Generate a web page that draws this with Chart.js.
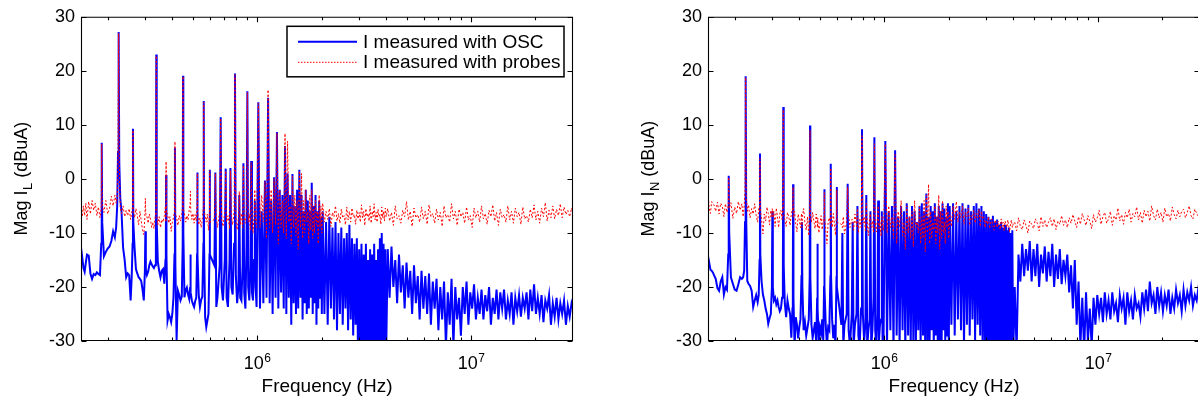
<!DOCTYPE html>
<html><head><meta charset="utf-8">
<script src="https://cdn.jsdelivr.net/npm/chart.js@4.4.0/dist/chart.umd.min.js"></script>
<style>
html,body{margin:0;padding:0;background:#fff;overflow:hidden;width:1198px;height:403px;}
canvas{position:absolute;top:0;}
#cL{left:0;}
#cN{left:627px;}
</style></head><body>
<canvas id="cL" width="600" height="403"></canvas>
<canvas id="cN" width="600" height="403"></canvas>
<script>
// ---------- data (frequency in kHz, magnitude in dBuA) ----------
const freqKHz = [
 150,152,154,156,158,160,163,166,169,172,
 175,178,181,184,186.5,187.5,188.5,192,196,200,
 204,208,212,216,219,221.5,223.5,225,226.5,229,
 232,236,240,244,248,252,256,259,261.5,262.5,
 263.5,267,271,275,279,283,287,291,295,298.5,
 300,301.5,305,309,313,317,321,325,329,333,
 336,337.5,339,343,348,353,358,363,368,372.5,
 374,375,376.5,381,386,391,396,401,406,410.5,
 412.5,414.5,420,426,432,438,444,448.5,450,451.5,
 457,463,469,475,481,486,487.5,489,495,501,
 507,513,519,523.5,525,526.5,533,540,547,554,
 560.5,562.5,564.5,571,578,585,592,598.5,600,601.5,
 631,637.5,644,652,668,675,682,692,705.5,712.5,
 719.5,730,742.5,750,757.5,768,780,787.5,795,806,
 817,825,833,844,855,862.5,870,881,892,900,
 908,919,929.5,937.5,945.5,956,967,975,983,994,
 1012.5,1031,1050,1069,1087.5,1106,1125,1144,1162.5,1181,
 1200,1219,1237.5,1256,1275,1294,1312.5,1331,1350,1369,
 1387.5,1406,1425,1444,1462.5,1481,1500,1519,1537.5,1556,
 1575,1594,1612.5,1631,1650,1669,1687.5,1706,1725,1744,
 1762.5,1781,1800,1819,1837.5,1856,1875,1894,1912.5,1931,
 1950,1969,1987.5,2006,
 2025,2062.5,2100,2137.5,2175,2212.5,2250,2287.5,2325,2362.5,
 2400,2437.5,2475,2512.5,2550,2587.5,2625,2662.5,2700,2737.5,
 2775,2812.5,2850,2887.5,2925,2962.5,3000,3037.5,3075,3112.5,
 3150,3187.5,3225,3262.5,3300,3337.5,3375,3412.5,3450,3487.5,
 3525,3562.5,3600,3637.5,3675,3712.5,3750,3787.5,3825,3862.5,
 3900,3937.5,3975,4012.5,
 4080,4163,4248,4335,4424,4514,4606,4700,4796,4894,
 4994,5096,5200,5306,5414,5525,5638,5753,5870,5990,
 6112,6237,6364,6494,6627,6762,6900,7041,7185,7332,
 7481,7634,7790,7949,8111,8276,8445,8617,8793,8972,
 9155,9342,9533,9727,9925,10128,10334,10545,10760,10979,
 11203,11432,11665,11903,12146,12394,12647,12905,13168,13437,
 13711,13991,14276,14568,14865,15168,15477,15793,16115,16444,
 16780,17122,17471,17828,18192,18563,18942,19328,19722,20125,
 20535,20954,21382,21818,22263,22717,23181,23654,24136,24628,
 25131,25644,26167,26701,27245,27801,28368,28947,29538,30000
];

// left plot: current I_L measured with oscilloscope
const oscL = [
 -12.7,-14.5,-16.5,-17.2,-15.5,-14.0,-14.2,-17.5,-18.5,-17.6,
 -17.8,-17.3,-17.6,-17.8,-12,6.7,-8,-14.3,-13.5,-12.9,
 -12.5,-11.5,-9.7,-10.8,-9.0,-5.0,5,27.2,3,-3.6,
 -6,-12.7,-15,-18.2,-17.5,-17.8,-22.5,-18,-12,9.3,
 -8,-12.7,-16.7,-17.5,-18.2,-18.5,-18.9,-20.5,-22.5,-17,
 -9.7,-16.7,-17.8,-17.2,-16.0,-15.3,-15.8,-16.2,-16.5,-16.0,
 -12,23.0,-8,-15.3,-17.0,-18.2,-17.0,-16.7,-19.4,-15,
 -12,0.7,-14,-26.2,-25,-25.6,-26.5,-25,-22,-14,
 5.8,-16,-29.8,-20.7,-21.5,-22.5,-21.8,-12,19.1,-10,
 -21.9,-20.6,-20.1,-21.4,-22.2,-20,-14,-21,-22.5,-23.2,
 -23.7,-22.6,-22,-14,1.2,-14,-21.4,-23.7,-22.4,-21.8,
 -12,14.4,-12,-25.6,-27.4,-26.2,-25,-14,1.7,-14,
 -16,1.2,-23.7,-22,-16,11.4,-20,-22.5,-15,1.9,
 -22,-23.7,-15,2.0,-20,-21.4,-12,19.5,-18,-23,
 -20,-3,-22,-22.5,-16,2.9,-21,-24,-12,16.2,
 -20,-22.5,-16,3.3,-21,-22.5,-15,-4,-20,-23.7,
 14.2,-24,-6,-23,-0.3,-22,15.0,-23,-4,-25,
 0.3,-22,8.7,-24,-2,-21,-3,-24,6.1,-25,
 1,-22,-3,-27,0.9,-23,-5,-25,-2,-24,
 1.7,-22,-3,-26,-6,-23,-2,-25,-4,-24,
 -6,-22,-0.7,-25,-5,-23,-3,-27,-6,-24,
 -4,-22,-7,-25,
 -6,-25,-8,-27,-7,-24,-9,-26,-8,-28,
 -10,-25,-9,-27,-11,-24,-10,-28,-8.5,-26,
 -11,-29,-12,-27,-11,-33,-13,-33,-12,-33,
 -14,-33,-12,-33,-15,-33,-13,-33,-14,-33,
 -12,-33,-15,-33,-13,-33,-11,-33,-10,-33,
 -12,-33,-13,-32,
 -13,-22,-12.5,-20,-15,-23,-14,-21,-16,-24,
 -15.5,-22,-17,-25,-16,-23,-18,-26,-17,-24,
 -18,-25,-17.5,-27,-19,-24,-18.5,-28,-20,-26,
 -19,-31,-21,-27,-18.5,-31,-20,-26,-22,-29,
 -20,-25,-19,-27,-21,-24,-19.5,-26,-22,-25,
 -20.5,-26,-21.5,-24.5,-20,-27,-22,-25,-20.5,-26,
 -21,-24,-20.5,-26,-22.5,-25,-21,-27,-22,-24.5,
 -21.5,-25.5,-22,-24,-21,-26,-20.5,-24.5,-19.5,-25,
 -22,-25,-21.5,-26.5,-22.5,-24,-21.5,-27,-23,-25.5,
 -22,-26,-23,-25,-22.5,-27,-23.5,-25.5,-23,-24
];

// left plot: current I_L measured with probes
const probeL = [
 -3.5,-7.0,-5.0,-6.8,-4.5,-7.5,-4.2,-6.5,-4.0,-5.8,
 -4.5,-6.8,-5.2,-7.2,-5.5,6.5,-5.0,-6.2,-4.0,-6.5,
 -5.5,-3.2,-5.0,-3.0,-4.5,-3.5,5,27.0,3,-5.5,
 -6.4,-5.0,-7.0,-5.8,-6.8,-5.5,-7.5,-6.2,-5.0,9.0,
 -6.0,-7.2,-5.5,-6.8,-8.5,-6.0,-7.8,-9.5,-10.3,-7.0,
 -3.6,-6.5,-6.9,-8.2,-6.5,-7.5,-9.0,-8.0,-9.2,-7.2,
 -6.0,22.8,-6.5,-8.5,-7.0,-9.0,-7.5,-8.0,-6.8,-5.0,
 -8,3.2,-6.5,-6.4,-8.2,-7.0,-9.7,-8.0,-7.2,-6.0,
 6.9,-6.5,-7.2,-8.6,-6.8,-7.8,-6.4,-5.0,19.0,-5.5,
 -6.4,-8.0,-6.8,-7.6,-5.8,-4.5,-2.3,-6.0,-7.5,-6.4,
 -8.2,-6.6,-7.8,-4.5,1.0,-6.0,-8.5,-7.2,-9.0,-7.4,
 -5.0,14.2,-5.5,-7.0,-8.0,-6.5,-9.5,-6.0,1.5,-8.0,
 -7.5,1.0,-7.0,-9.0,-6.0,11.2,-7.5,-8.8,-6.2,1.5,
 -8.0,-6.8,-9.2,1.5,-7.0,-8.5,-6.0,19.3,-7.8,-9.4,
 -7.2,-2.3,-8.5,-6.4,-9.0,2.5,-7.4,-8.2,-6.0,16.0,
 -8.0,-6.5,-9.5,3.0,-7.2,-10.0,-6.8,-2.0,-8.0,-9.0,
 14.0,-9,-3,-8,-0.5,-11,16.5,-9,-2,-10,
 0,-8.5,8.5,-12,-2,-9,-4,-10,8.4,-11,
 7.0,-8,-5,-12,0.5,-9,-3,-10.5,-4,-13,
 1.5,-9,1.0,-11,-4,-10,-2,-8,-6,-12,
 -3,-9.5,-2,-11,-5,-10,-4,-8.5,-6,-12,
 -3,-9,-5,-10,
 -4.5,-8.0,-6.0,-7.5,-5.5,-8.8,-6.2,-7.0,-5.0,-7.8,
 -6.4,-8.2,-5.6,-7.2,-6.8,-8.5,-5.2,-7.6,-6.0,-8.0,
 -5.4,-7.0,-6.6,-8.4,-5.8,-7.4,-6.2,-8.0,-4.8,-7.2,
 -6.0,-8.6,-5.5,-7.0,-6.4,-7.8,-5.0,-8.2,-6.0,-7.0,
 -4.6,-7.6,-6.2,-8.0,-5.6,-7.0,-6.6,-8.4,-5.2,-7.2,
 -6.0,-7.8,-5.4,-7.0,
 -5.5,-7.8,-6.2,-8.6,-5.0,-7.4,-6.8,-8.2,-5.8,-7.0,
 -4.2,-7.6,-6.0,-8.8,-5.4,-7.2,-6.6,-8.0,-5.2,-7.4,
 -6.0,-8.4,-4.8,-7.0,-6.4,-8.2,-5.6,-7.6,-6.2,-8.8,
 -5.0,-7.2,-6.6,-8.0,-4.6,-7.4,-6.0,-8.6,-5.6,-7.0,
 -6.2,-8.2,-5.2,-7.6,-6.8,-9.0,-5.4,-7.2,-6.0,-8.0,
 -5.0,-7.4,-6.4,-8.4,-5.8,-7.0,-4.8,-7.8,-6.2,-8.6,
 -5.6,-7.2,-6.6,-8.0,-5.0,-7.6,-6.0,-8.2,-5.4,-7.0,
 -6.2,-8.4,-5.2,-7.4,-6.8,-8.0,-5.6,-7.2,-4.8,-7.6,
 -6.0,-8.2,-5.4,-7.0,-4.4,-7.8,-5.8,-7.2,-5.0,-7.4,
 -5.6,-6.8,-4.6,-7.2,-5.2,-6.6,-5.8,-7.0,-5.4,-6.2
];

// right plot: current I_N measured with oscilloscope
const oscN = [
 -14.3,-15.5,-16.8,-17.0,-17.3,-17.8,-18.5,-20.2,-20.7,-19.0,
 -18.2,-21.4,-20.0,-20.5,-14,0.6,-10,-18.2,-19.4,-20.5,
 -20.7,-19.5,-18.2,-18.5,-18.2,-17,-8,19.0,-8,-18.9,
 -19.4,-19.8,-20.7,-23.7,-22.5,-21.5,-22.8,-21.5,-15,4.7,
 -14,-18.9,-21.4,-22.5,-24,-25,-26.8,-25.8,-25,-20,
 -6.0,-20,-22.5,-22,-23.2,-22.5,-23.7,-24.5,-24,-22,
 -18,13.3,-16,-23,-25.6,-22.5,-24,-25,-29.4,-24,
 -20,-1.0,-22,-31,-25.6,-27,-29.5,-27.4,-26,-18,
 -8,-20,-28,-26.5,-29,-27.5,-26,-18,9.9,-18,
 -27,-29.4,-28,-26.5,-30.5,-22,-12,-24,-30.5,-27.5,
 -28.5,-26,-30,-20,-1.9,-20,-27,-31,-27.5,-28,
 -18,2.8,-18,-26,-29.5,-27,-31,-18,-1.5,-20,
 -27,-10,-31,-27,-25,-0.9,-28,-31,-25,-8,
 -31,-27,-25,-5,-29,-31,-24,9.2,-25,-30,
 -27,-3,-31,-28,-26,-6,-31,-28,-22,7.7,
 -28,-31,-25,-4,-30,-27,-26,-6,-31,-29,
 7.0,-31,-6,-28,-5,-32,5.3,-29,-7,-31,
 -5,-28,-6,-32,-4.5,-29,-7,-31,-5,-30,
 -6,-32,-8,-28,-5,-31,-4.5,-29,-6,-32,
 -2.7,-30,-7,-31,-5,-28,-6,-32,-4.5,-29,
 -7,-31,-5,-30,-6,-32,-4.5,-28,-5.5,-31,
 -7,-29,-4.5,-31,
 -5,-27,-4.5,-29,-6,-26,-5,-28,-4.5,-31,
 -5.5,-27,-4.8,-29,-6,-26,-5,-30,-4.5,-27,
 -5.5,-29,-5,-31,-6,-33,-6.5,-33,-7,-33,
 -7.5,-33,-6.8,-33,-8,-33,-7.5,-33,-8.5,-33,
 -8,-33,-9,-33,-8.5,-33,-9.5,-33,-9,-33,
 -10,-33,-9.5,-33,
 -20,-32,-14,-19,-12,-18,-13,-17,-11.5,-19,
 -13,-18,-12,-20,-14,-17.5,-12.5,-19,-13.5,-18,
 -12,-20,-14,-18.5,-13,-19.5,-15,-18,-14,-21,
 -16,-24,-15,-27,-19,-31,-22,-32,-21,-30,
 -24,-31,-22,-27,-21.5,-25,-22,-26.5,-21,-25,
 -22.5,-26,-21,-24.5,-23,-26.5,-21.5,-24,-22,-27,
 -21,-24.5,-22.5,-26,-21.5,-24,-23,-25.5,-21,-24,
 -20.5,-24.5,-19,-23,-21.5,-25,-20,-23.5,-21,-24.5,
 -21.5,-23.5,-20.5,-25,-22,-24,-20.5,-23,-21.5,-24.5,
 -20.5,-23.5,-21,-22.5,-20,-23.5,-21.5,-22.5,-20,-21
];

// right plot: current I_N measured with probes
const probeN = [
 -2.6,-5.5,-6.4,-4.2,-4.6,-4.8,-6.0,-4.3,-6.5,-4.5,
 -5.0,-7.0,-4.6,-6.2,-5.0,0.3,-5.5,-4.4,-7.3,-5.2,
 -6.4,-4.2,-5.8,-4.6,-7.0,-5.0,-2,18.8,-3,-6.0,
 -4.8,-7.2,-5.5,-6.5,-4.6,-6.8,-8.0,-5.5,-6.0,3.8,
 -5.5,-7.5,-10.2,-6.5,-7.8,-5.2,-6.4,-8.5,-5.8,-7.0,
 -5.5,-7.2,-6.0,-8.8,-5.4,-7.0,-9.0,-6.5,-5.8,-7.5,
 -5.0,12.8,-6.0,-7.5,-8.8,-6.2,-7.0,-8.6,-6.5,-5.5,
 -6,-1.5,-7.2,-6.0,-8.4,-9.8,-6.5,-7.6,-9.0,-6.4,
 -9,-7.0,-5.5,-8.2,-9.5,-7.0,-10.5,-6.0,9.0,-6.5,
 -8.0,-6.2,-7.8,-9.2,-6.5,-8.4,-9,-7.2,-10.0,-8.2,
 -6.8,-9.4,-7.5,-8.0,-2.5,-7.0,-9.6,-12.0,-8.0,-7.2,
 -8.5,2.0,-7.0,-9.0,-6.4,-8.2,-10.4,-7.0,-2.0,-8.0,
 -8.4,-9.0,-7.0,-10.2,-8.0,-1.5,-6.8,-9.0,-7.5,-7.5,
 -9.5,-6.5,-8.8,-5.5,-10.0,-7.5,-9.0,8.0,-8.2,-7.0,
 -9.6,-4.5,-8.0,-10.5,-7.2,-6.5,-9.0,-7.8,-10.0,6.5,
 -8.0,-9.8,-7.4,-5.0,-9.2,-8.0,-10.6,-7.0,-8.4,-9.6,
 6.5,-10,-5,-9,-7,-11,4.5,-12,-6,-9,
 -4,-10.5,-8,-13,-5,-10,-7,-11,-6,-12.5,
 -4,-9,-8,-10,-5,-12,-7,-11,-4,-13.5,
 -3,-10,-1,-12,-6,-11,-8,-9.5,-5,-12,
 -7,-10,-3,-13,-6,-11,-4,-10,-8,-12,
 -5,-9,-6,-11,
 -6.5,-8.8,-5.0,-7.5,-4.2,-8.0,-6.0,-7.2,-5.0,-8.4,
 -6.2,-7.0,-5.4,-8.6,-6.8,-7.5,-5.8,-8.2,-6.4,-7.2,
 -5.6,-8.8,-6.0,-7.4,-7.0,-9.0,-7.6,-8.4,-7.0,-9.2,
 -8.0,-7.4,-8.8,-9.5,-7.6,-8.2,-9.0,-7.8,-8.6,-9.4,
 -7.4,-8.8,-8.0,-9.6,-7.8,-8.4,-9.0,-7.6,-8.8,-9.8,
 -8.2,-7.6,-9.0,-8.4,
 -8.0,-9.6,-7.2,-8.8,-9.4,-7.6,-8.6,-10.0,-7.8,-8.4,
 -9.2,-7.4,-8.2,-9.6,-7.0,-8.8,-7.6,-9.0,-8.0,-7.2,
 -8.8,-7.4,-9.4,-7.8,-8.4,-6.8,-8.6,-7.6,-9.0,-7.2,
 -8.2,-6.6,-7.8,-9.0,-7.0,-8.4,-6.4,-7.6,-8.6,-6.8,
 -7.8,-9.2,-6.6,-8.0,-7.2,-5.8,-8.4,-7.0,-6.2,-8.2,
 -7.4,-6.0,-8.6,-6.8,-7.6,-5.4,-7.8,-6.6,-8.4,-6.2,
 -7.2,-5.6,-8.0,-6.4,-7.0,-5.2,-7.6,-6.2,-8.2,-5.8,
 -7.0,-6.0,-7.8,-5.0,-6.8,-7.6,-5.6,-7.2,-6.2,-8.0,
 -5.4,-7.0,-6.4,-7.8,-5.2,-6.6,-7.4,-5.8,-7.0,-6.0,
 -5.6,-7.2,-6.2,-5.0,-6.8,-7.4,-5.6,-6.4,-7.0,-6.0
];

// axis ticks and text
const xMinorTicks = [2e5,3e5,4e5,5e5,6e5,7e5,8e5,9e5,2e6,3e6,4e6,5e6,6e6,7e6,8e6,9e6,2e7];
const xMajorTicks = [1e6, 1e7];
const xLabelBase = '10';
const xLabelExps = ['6', '7'];
const xTitle = 'Frequency (Hz)';
const yTitleL = ['Mag I', 'L', ' (dBuA)'];
const yTitleN = ['Mag I', 'N', ' (dBuA)'];
const legendLabels = ['I measured with OSC', 'I measured with probes'];

const lens = [freqKHz.length, oscL.length, probeL.length, oscN.length, probeN.length];
if (new Set(lens).size !== 1) throw new Error('length mismatch ' + lens.join(','));

const FONT = '"Liberation Sans", Arial, Helvetica, sans-serif';
const BLUE = '#0000ff', RED = '#ff0000';

const matlabPlugin = {
  id: 'matlab',
  afterDatasetsDraw(chart, args, opts) {
    const {ctx, chartArea: a} = chart;
    const xs = chart.scales.x, ys = chart.scales.y;
    const L = a.left + 0.5, R = a.right - 0.5, T = a.top + 0.5, B = a.bottom - 0.5;
    ctx.save();
    ctx.strokeStyle = '#000';
    ctx.lineWidth = 1.1;
    ctx.beginPath();
    ctx.rect(L, T, R - L, B - T);
    xMinorTicks.forEach(v => {
      const p = Math.round(xs.getPixelForValue(v)) + 0.5;
      ctx.moveTo(p, B); ctx.lineTo(p, B - 3);
      ctx.moveTo(p, T); ctx.lineTo(p, T + 3);
    });
    xMajorTicks.forEach(v => {
      const p = Math.round(xs.getPixelForValue(v)) + 0.5;
      ctx.moveTo(p, B); ctx.lineTo(p, B - 5);
      ctx.moveTo(p, T); ctx.lineTo(p, T + 5);
    });
    ys.ticks.forEach(t => {
      const p = Math.round(ys.getPixelForValue(t.value)) + 0.5;
      ctx.moveTo(L, p); ctx.lineTo(L + 5, p);
      ctx.moveTo(R, p); ctx.lineTo(R - 5, p);
    });
    ctx.stroke();

    // x tick labels 10^n
    ctx.fillStyle = '#000';
    ctx.textAlign = 'left';
    ctx.textBaseline = 'alphabetic';
    xMajorTicks.forEach((v, i) => {
      const p = xs.getPixelForValue(v);
      ctx.font = '18px ' + FONT;
      const wb = ctx.measureText(xLabelBase).width;
      ctx.font = '12px ' + FONT;
      const we = ctx.measureText(xLabelExps[i]).width;
      const x0 = p - (wb + we) / 2;
      ctx.font = '18px ' + FONT;
      ctx.fillText(xLabelBase, x0, a.bottom + 28);
      ctx.font = '12px ' + FONT;
      ctx.fillText(xLabelExps[i], x0 + wb + 0.5, a.bottom + 21);
    });

    // y title with subscript
    const parts = opts.yTitle;
    ctx.save();
    ctx.translate(27, (a.top + a.bottom) / 2);
    ctx.rotate(-Math.PI / 2);
    ctx.font = '18px ' + FONT;
    const w1 = ctx.measureText(parts[0]).width, w3 = ctx.measureText(parts[2]).width;
    ctx.font = '13px ' + FONT;
    const w2 = ctx.measureText(parts[1]).width;
    let xx = -(w1 + w2 + w3) / 2;
    ctx.font = '18px ' + FONT; ctx.fillText(parts[0], xx, 0); xx += w1;
    ctx.font = '13px ' + FONT; ctx.fillText(parts[1], xx + 0.5, 5); xx += w2 + 0.5;
    ctx.font = '18px ' + FONT; ctx.fillText(parts[2], xx, 0);
    ctx.restore();

    // legend
    if (opts.legend) {
      const bx = a.right - 286, by = a.top + 9.5, bw = 277, bh = 50.5;
      ctx.fillStyle = '#fff';
      ctx.fillRect(bx, by, bw, bh);
      ctx.lineWidth = 1.5;
      ctx.strokeStyle = '#000';
      ctx.strokeRect(bx, by, bw, bh);
      const rows = [by + 15.5, by + 36];
      const styles = [{c: BLUE, w: 2, d: []}, {c: RED, w: 1, d: [1.5, 1.5]}];
      rows.forEach((ry, i) => {
        ctx.beginPath();
        ctx.strokeStyle = styles[i].c;
        ctx.lineWidth = styles[i].w;
        ctx.setLineDash(styles[i].d);
        ctx.moveTo(bx + 11, ry); ctx.lineTo(bx + 70, ry);
        ctx.stroke();
        ctx.setLineDash([]);
        ctx.fillStyle = '#000';
        ctx.font = '19px ' + FONT;
        ctx.textBaseline = 'middle';
        ctx.fillText(chart.data.datasets[i].label, bx + 76, ry + 0.5);
      });
    }
    ctx.restore();
  }
};

function makeChart(id, osc, probe, yTitle, showLegend) {
  return new Chart(document.getElementById(id), {
    type: 'line',
    data: {
      datasets: [
        { label: legendLabels[0], data: freqKHz.map((f, i) => ({x: f * 1000, y: osc[i]})),
          borderColor: BLUE, borderWidth: 2, pointRadius: 0, tension: 0, order: 1, clip: 0 },
        { label: legendLabels[1], data: freqKHz.map((f, i) => ({x: f * 1000, y: probe[i]})),
          borderColor: RED, borderWidth: 1, borderDash: [2, 2], pointRadius: 0, tension: 0, order: 0, clip: 0 }
      ]
    },
    options: {
      responsive: false, animation: false, events: [],
      layout: { padding: { left: 0, right: 27, top: 14, bottom: 0 } },
      plugins: { legend: { display: false }, tooltip: { enabled: false },
                 matlab: { yTitle: yTitle, legend: showLegend } },
      scales: {
        x: { type: 'logarithmic', min: 150000, max: 30000000,
             ticks: { display: false }, grid: { display: false }, border: { display: false },
             title: { display: true, text: xTitle, color: '#000', font: { family: FONT, size: 19 }, padding: { top: 0, bottom: 5 } },
             afterFit(s) { s.height = 62; } },
        y: { min: -30, max: 30,
             ticks: { stepSize: 10, color: '#000', font: { family: FONT, size: 18 }, padding: 6 },
             grid: { display: false, drawTicks: false }, border: { display: false },
             afterFit(s) { s.width = 81; } }
      }
    },
    plugins: [matlabPlugin]
  });
}

makeChart('cL', oscL, probeL, yTitleL, true);
makeChart('cN', oscN, probeN, yTitleN, false);
</script>
</body></html>
